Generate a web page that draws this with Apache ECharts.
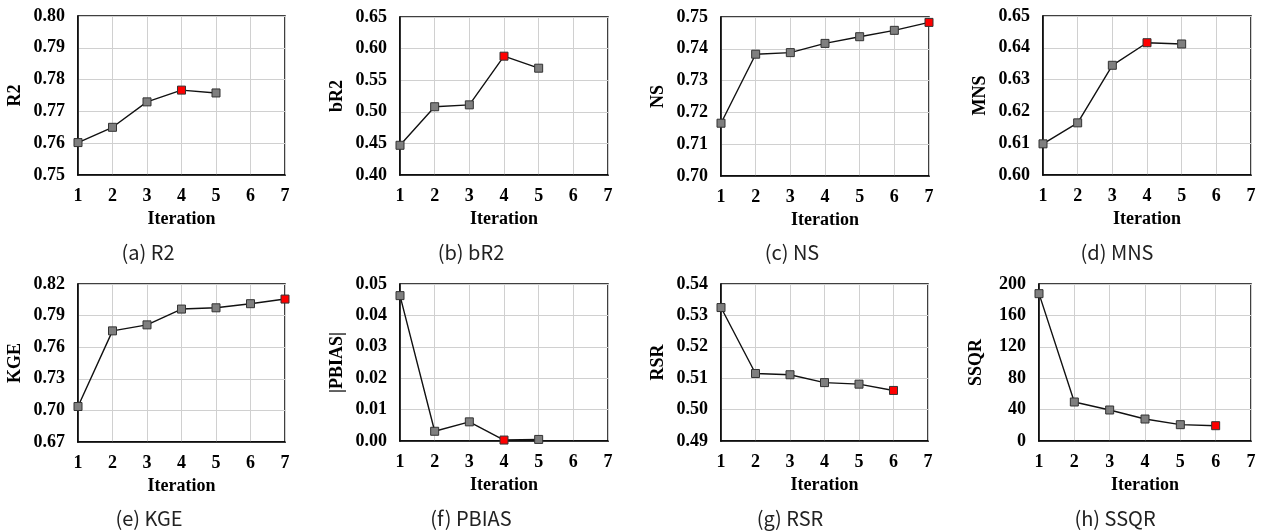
<!DOCTYPE html>
<html>
<head>
<meta charset="utf-8">
<script src="https://cdn.jsdelivr.net/npm/echarts@6/dist/echarts.min.js"></script>
<style>
  html, body { margin: 0; padding: 0; background: #fff; }
  #chart { width: 1263px; height: 531px; }
</style>
</head>
<body>
<div id="chart"></div>
<script>
// values, one array per panel (x = iteration 1..n)
var r2    = [0.7602, 0.7650, 0.7730, 0.7767, 0.7758];
var bR2   = [0.447, 0.508, 0.511, 0.588, 0.569];
var ns    = [0.7166, 0.7383, 0.7388, 0.7417, 0.7438, 0.7458, 0.7483];
var mns   = [0.6098, 0.6164, 0.6345, 0.6416, 0.6412];
var kge   = [0.7037, 0.7755, 0.7812, 0.7962, 0.7974, 0.8013, 0.8057];
var pbias = [0.0463, 0.0031, 0.0061, 0.0003, 0.0005];
var rsr   = [0.5325, 0.5115, 0.5111, 0.5086, 0.5081, 0.5061];
var ssqr  = [187.7, 49.7, 39.5, 28.0, 20.8, 19.5];

var seriesList = [r2, bR2, ns, mns, kge, pbias, rsr, ssqr];
var bestIteration = [4, 4, 7, 4, 7, 4, 6, 6];
var yNames = ['R2', 'bR2', 'NS', 'MNS', 'KGE', '|PBIAS|', 'RSR', 'SSQR'];
var captions = ['(a) R2', '(b) bR2', '(c) NS', '(d) MNS', '(e) KGE', '(f) PBIAS', '(g) RSR', '(h) SSQR'];
var xTicks = [1, 7, 1];      // min, max, step
var yMin = [0.75, 0.40, 0.70, 0.60, 0.67, 0, 0.49, 0];
var yMax = [0.80, 0.65, 0.75, 0.65, 0.82, 0.05, 0.54, 200];
var yStep = [0.01, 0.05, 0.01, 0.01, 0.03, 0.01, 0.01, 40];
var yDecimals = [2, 2, 2, 2, 2, 2, 2, 0];

// panel boxes
var boxes = [
  {left: 78,   top: 16,  width: 207, height: 159},
  {left: 400,  top: 17,  width: 208, height: 158},
  {left: 721,  top: 17,  width: 208, height: 159},
  {left: 1043, top: 16,  width: 208, height: 159},
  {left: 78,   top: 284, width: 207, height: 158},
  {left: 400,  top: 284, width: 208, height: 157},
  {left: 721,  top: 284, width: 207, height: 157},
  {left: 1039, top: 284, width: 212, height: 157}
];
var captionPos = [[148, 252], [471, 252], [792, 252], [1117, 252],
                  [149, 518], [471, 518], [790, 518], [1115, 518]];

var serif = '"Liberation Serif", "Times New Roman", serif';

var chartLine = echarts.init(document.getElementById('chart'));

var grid = [], xAxis = [], yAxis = [], series = [], graphic = [];

seriesList.forEach(function (vals, i) {
  grid.push({
    left: boxes[i].left, top: boxes[i].top, width: boxes[i].width, height: boxes[i].height,
    show: true, borderColor: '#000', borderWidth: 1.5, containLabel: false
  });
  xAxis.push({
    gridIndex: i, type: 'value', min: xTicks[0], max: xTicks[1], interval: xTicks[2],
    name: 'Iteration', nameLocation: 'middle', nameGap: 35,
    nameTextStyle: {fontFamily: serif, fontWeight: 'bold', fontSize: 18, color: '#000'},
    axisLine: {show: true, lineStyle: {color: '#000', width: 1.5}},
    axisTick: {show: false},
    axisLabel: {fontFamily: serif, fontWeight: 'bold', fontSize: 18, color: '#000', margin: 12},
    splitLine: {show: true, lineStyle: {color: '#d0d0d0', width: 1}}
  });
  yAxis.push({
    gridIndex: i, type: 'value', min: yMin[i], max: yMax[i], interval: yStep[i],
    name: yNames[i], nameLocation: 'middle', nameGap: 54, nameRotate: 90,
    nameTextStyle: {fontFamily: serif, fontWeight: 'bold', fontSize: 18, color: '#000'},
    axisLine: {show: true, lineStyle: {color: '#000', width: 1.5}},
    axisTick: {show: false},
    axisLabel: {
      fontFamily: serif, fontWeight: 'bold', fontSize: 18, color: '#000', margin: 13,
      formatter: (function (d) { return function (v) { return v.toFixed(d); }; })(yDecimals[i])
    },
    splitLine: {show: true, lineStyle: {color: '#d0d0d0', width: 1}}
  });
  series.push({
    type: 'line', xAxisIndex: i, yAxisIndex: i, clip: false,
    data: vals.map(function (v, k) {
      var it = k + 1;
      return {
        value: [it, v],
        itemStyle: {color: it === bestIteration[i] ? '#ff0000' : '#7f7f7f', borderColor: '#333', borderWidth: 1}
      };
    }),
    symbol: 'rect', symbolSize: 8,
    lineStyle: {color: '#111', width: 1.4},
    emphasis: {disabled: true}
  });
  graphic.push({
    type: 'text', x: captionPos[i][0], y: captionPos[i][1],
    style: {
      text: captions[i], textAlign: 'center', textVerticalAlign: 'middle',
      font: '20px "Noto Sans CJK KR", "Noto Sans", sans-serif', fill: '#222'
    }
  });
});

chartLine.setOption({
  animation: false,
  grid: grid,
  xAxis: xAxis,
  yAxis: yAxis,
  series: series,
  graphic: graphic
});
</script>
</body>
</html>
